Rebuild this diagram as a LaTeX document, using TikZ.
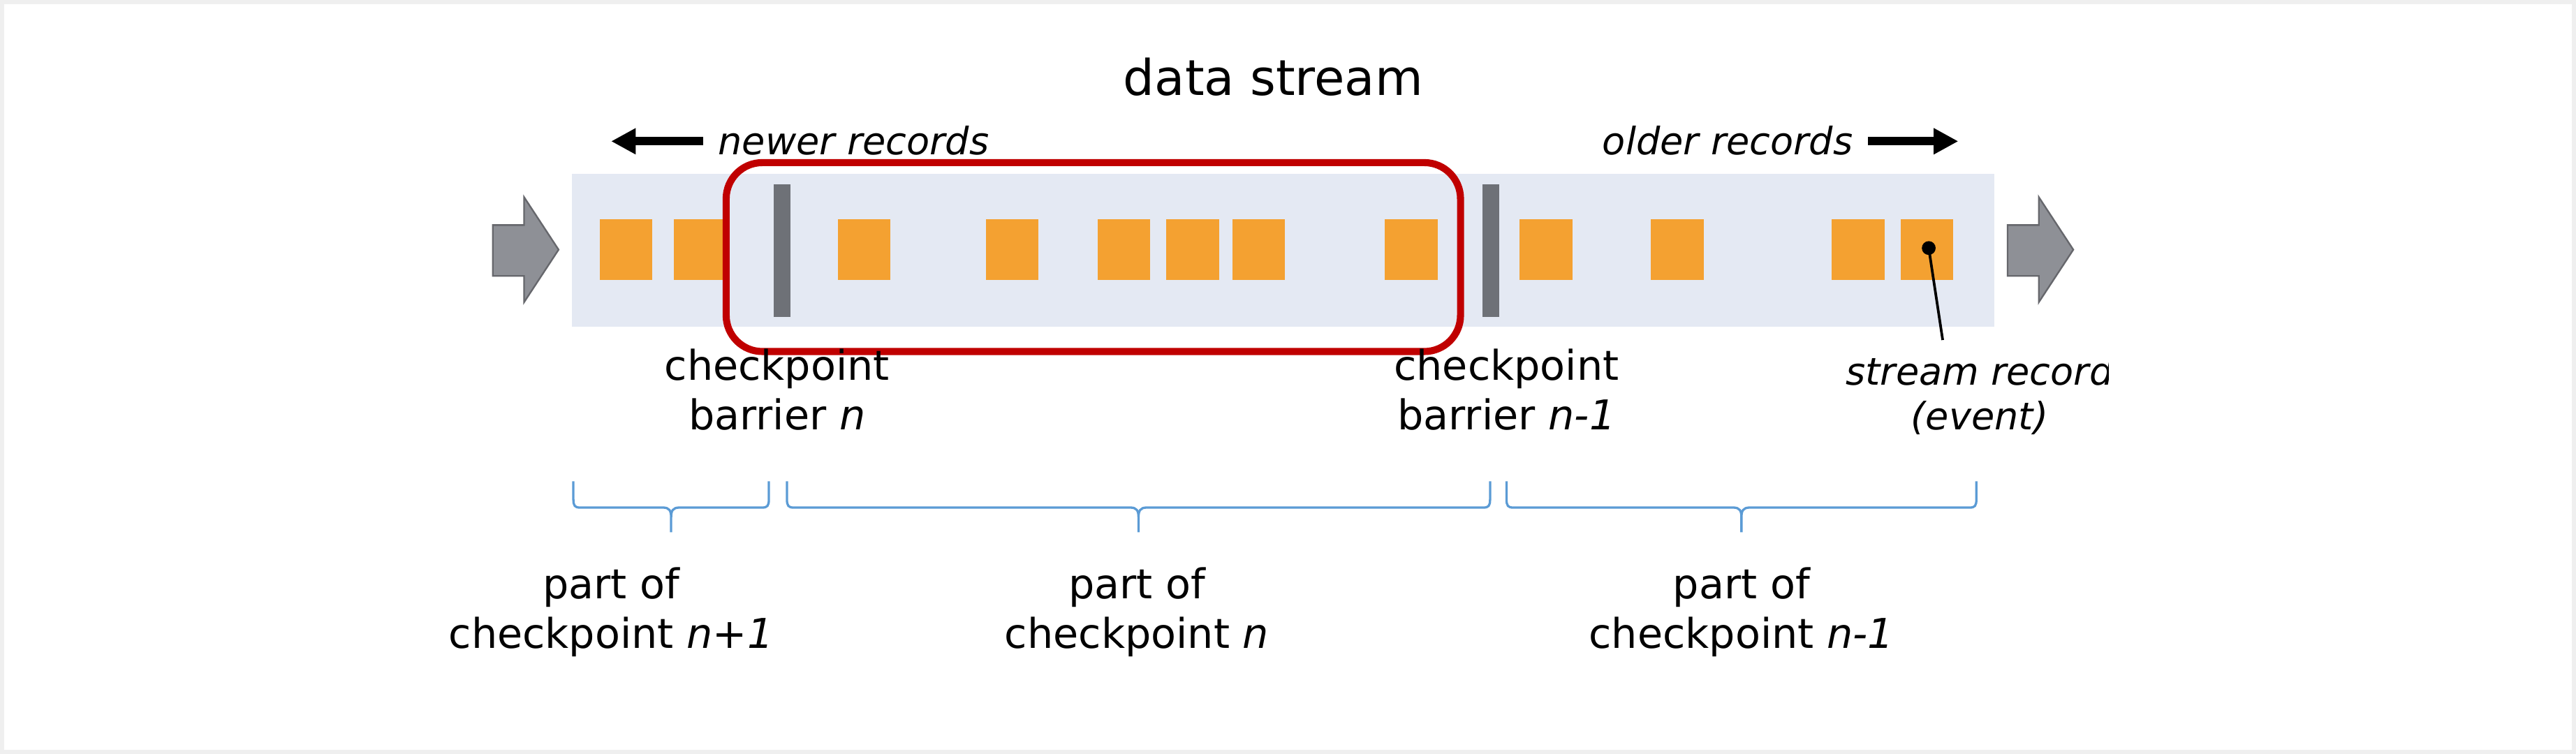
\documentclass[tikz,border=0pt]{standalone}
\usepackage{fontspec}
\setmainfont{DejaVu Sans}
\usepackage{xcolor}
\definecolor{cBand}{HTML}{E4E9F3}
\definecolor{cRecord}{HTML}{F4A131}
\definecolor{cBarrier}{HTML}{6E7177}
\definecolor{cWindow}{HTML}{C00000}
\definecolor{cBrace}{HTML}{5B9BD5}
\definecolor{cFlow}{HTML}{8E9096}
\definecolor{cFlowEdge}{HTML}{66676C}
\definecolor{cFrame}{HTML}{EFEFEF}
\usepackage{tikz}
\usetikzlibrary{positioning,arrows.meta}
\tikzset{
  node-record/.style={fill=cRecord,minimum width=32pt,minimum height=37pt,inner sep=0pt},
  node-barrier/.style={fill=cBarrier,minimum width=10pt,minimum height=81pt,inner sep=0pt},
  node-title/.style={inner sep=0pt,font=\fontsize{30}{36}\selectfont},
  node-label/.style={align=center,inner sep=0pt,font=\fontsize{25}{30}\selectfont},
  node-hint/.style={inner sep=0pt,font=\fontsize{23}{27}\selectfont\itshape},
  arrow-dir/.style={-{Triangle[length=15pt,width=15pt]},line width=5pt},
  arrow-flow/.style={fill=cFlow,draw=cFlowEdge,line width=1pt},
  brace-part/.style={draw=cBrace,line width=1.4pt},
  window/.style={draw=cWindow,line width=4.3pt,rounded corners=22pt},
  pointer/.style={draw=black,line width=1.6pt},
}

\begin{document}
\begin{tikzpicture}[x=1pt,y=-1pt]
  \useasboundingbox (0,0) rectangle (1568,459);
  \draw[cFrame,line width=2.5pt] (1.25,1.25) rectangle (1566.75,457.75);

  % the stream with its records and barriers
  \fill[cBand] (348,106) rectangle (1214,199);
  \foreach \x [count=\i] in {381,426,526,616,684,726,766,859,941,1021,1131,1173}
    \node[node-record] (r\i) at (\x,152) {};
  \node[node-barrier] (b1) at (476,152.5) {};
  \node[node-barrier] (b2) at (907.5,152.5) {};

  % in / out
  \foreach \x in {300,1222}
    \draw[arrow-flow] (\x,137) -- ++(19,0) -- ++(0,-17) -- ++(21,32)
      -- ++(-21,32) -- ++(0,-16) -- ++(-19,0) -- cycle;

  \draw[window] (442,99) rectangle (889,214);

  % top
  \node[node-title,anchor=base] (title) at (775,58) {data stream};
  \node[node-hint,anchor=base west] (newer) at (437,94) {newer records};
  \node[node-hint,anchor=base east] (older) at (1128,94) {older records};
  \coordinate (newtip) at (372,86);
  \coordinate (oldtip) at (1192,86);
  \draw[arrow-dir] (428,86) -- (newtip);
  \draw[arrow-dir] (1137,86) -- (oldtip);

  % barrier labels (base = last line)
  \node[node-label,anchor=base] (cb1) at (473,261.5) {checkpoint\\barrier \textit{n}};
  \node[node-label,anchor=base] (cb2) at (917,261.5) {checkpoint\\barrier \textit{n-1}};

  % the one record with a pointer
  \begin{scope}
    \clip (1090,205) rectangle (1283.5,285);
    \node[node-hint,align=center,anchor=base] (evt) at (1205,261.5) {stream record\\(event)};
  \end{scope}
  \coordinate (evdot) at (1174,151);
  \coordinate (evtip) at (1182.5,207);
  \fill (evdot) circle (4.2pt);
  \draw[pointer] (evdot) -- (evtip);

  % braces
  \foreach \a/\b in {349/468,479/907,917/1203} {
    \pgfmathsetmacro\m{(\a+\b)/2}
    \draw[brace-part] (\a,293) -- (\a,304) .. controls (\a,308) and (\a+1,309) .. (\a+4,309)
      -- (\m-5,309) .. controls (\m-1,309) and (\m,311) .. (\m,315) -- (\m,324)
      (\m,315) .. controls (\m,311) and (\m+1,309) .. (\m+5,309)
      -- (\b-4,309) .. controls (\b-1,309) and (\b,308) .. (\b,304) -- (\b,293);
  }
  \node[node-label,anchor=base] (p1) at (372,394.5) {part of\\checkpoint \textit{n+1}};
  \node[node-label,anchor=base] (p2) at (692,394.5) {part of\\checkpoint \textit{n}};
  \node[node-label,anchor=base] (p3) at (1060,394.5) {part of\\checkpoint \textit{n-1}};
\end{tikzpicture}
\end{document}
